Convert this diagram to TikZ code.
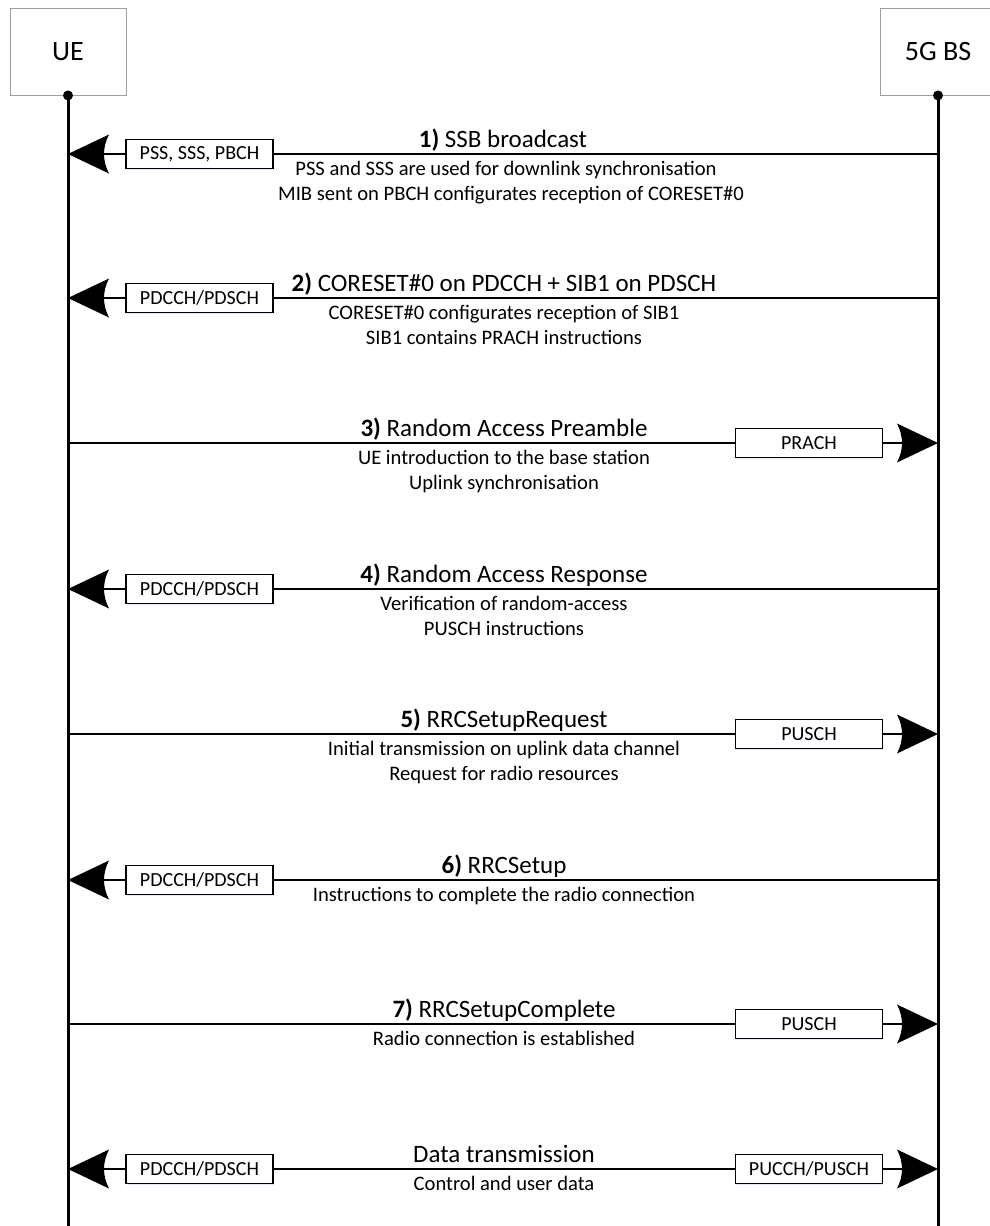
\documentclass[tikz,border=0pt]{standalone}
\usepackage{fontspec}
\setmainfont{Carlito}
\usetikzlibrary{arrows.meta,shadows}

% filled arrow head whose back edge is a concave curve
\pgfdeclarearrow{
  name = CurvedBack,
  parameters = {\the\pgfarrowlength,\the\pgfarrowwidth,\the\pgfarrowinset},
  setup code = {
    \pgfarrowssettipend{0pt}
    \pgfarrowssetbackend{-\pgfarrowlength}
    \pgfarrowssetlineend{-0.5\pgfarrowlength}
    \pgfarrowshullpoint{0pt}{0pt}
    \pgfarrowsupperhullpoint{-\pgfarrowlength}{0.5\pgfarrowwidth}
    \pgfarrowssavethe\pgfarrowlength
    \pgfarrowssavethe\pgfarrowwidth
    \pgfarrowssavethe\pgfarrowinset
  },
  drawing code = {
    \pgfpathmoveto{\pgfpointorigin}
    \pgfpathlineto{\pgfpoint{-\pgfarrowlength}{0.5\pgfarrowwidth}}
    \pgfpathcurveto
      {\pgfpointadd{\pgfpoint{-\pgfarrowlength}{0.1667\pgfarrowwidth}}{\pgfpoint{1.333\pgfarrowinset}{0pt}}}
      {\pgfpointadd{\pgfpoint{-\pgfarrowlength}{-0.1667\pgfarrowwidth}}{\pgfpoint{1.333\pgfarrowinset}{0pt}}}
      {\pgfpoint{-\pgfarrowlength}{-0.5\pgfarrowwidth}}
    \pgfpathclose
    \pgfusepathqfill
  },
  defaults = {length=41pt, width=39pt, inset=5pt}
}

\begin{document}
\begin{tikzpicture}[x=1pt,y=-1pt,
  header/.style={draw=black!38, line width=0.9pt, minimum width=116pt,
    minimum height=87pt, inner sep=0pt, font=\fontsize{28}{32}\selectfont},
  lifeline/.style={line width=3pt},
  msg/.style={line width=2pt},
  msgarrow/.style={-{CurvedBack}},
  chan/.style={draw, fill=white, line width=1.6pt, minimum width=147pt,
    minimum height=29pt, inner sep=0pt, font=\fontsize{20}{24}\selectfont,
    drop shadow={shadow xshift=0.6pt, shadow yshift=-1.8pt,
      fill={rgb,255:red,185;green,205;blue,230}, opacity=0.45}},
  msgtitle/.style={anchor=base, font=\fontsize{25}{29}\selectfont},
  msgdesc/.style={anchor=base, font=\fontsize{20.6}{24}\selectfont},
]
\useasboundingbox (0,0) rectangle (990,1226);
\clip (0,0) rectangle (990,1226);

% participants
\node[header] (ue) at (68,51.5) {UE};
\node[header] (bs) at (938,51.5) {5G BS};

% lifelines
\draw[lifeline] (ue.south) -- (ue.south |- 0,1232);
\draw[lifeline] (bs.south) -- (bs.south |- 0,1232);
\fill (ue.south) circle (5pt);
\fill (bs.south) circle (5pt);

% 1) SSB broadcast
\coordinate (ue1) at (68,154); \coordinate (bs1) at (938,154);
\node[chan] (c1) at (199.5,154) {PSS, SSS, PBCH};
\draw[msg] (bs1) -- (c1.east);
\draw[msg,msgarrow] (c1.west) -- (ue1);
\node[msgtitle] (t1) at (503,147) {\textbf{1)} SSB broadcast};
\node[msgdesc] (d1a) at (506,175) {PSS and SSS are used for downlink synchronisation};
\node[msgdesc] (d1b) at (511,200) {MIB sent on PBCH configurates reception of CORESET\#0};

% 2) CORESET#0 + SIB1
\coordinate (ue2) at (68,298); \coordinate (bs2) at (938,298);
\node[chan] (c2) at (199.5,298) {PDCCH/PDSCH};
\draw[msg] (bs2) -- (c2.east);
\draw[msg,msgarrow] (c2.west) -- (ue2);
\node[msgtitle] (t2) at (504,291) {\textbf{2)} CORESET\#0 on PDCCH + SIB1 on PDSCH};
\node[msgdesc] (d2a) at (504,319) {CORESET\#0 configurates reception of SIB1};
\node[msgdesc] (d2b) at (504,344) {SIB1 contains PRACH instructions};

% 3) Random Access Preamble
\coordinate (ue3) at (68,443); \coordinate (bs3) at (938,443);
\node[chan] (c3) at (809,443) {PRACH};
\draw[msg] (ue3) -- (c3.west);
\draw[msg,msgarrow] (c3.east) -- (bs3);
\node[msgtitle] (t3) at (504,436) {\textbf{3)} Random Access Preamble};
\node[msgdesc] (d3a) at (504,464) {UE introduction to the base station};
\node[msgdesc] (d3b) at (504,489) {Uplink synchronisation};

% 4) Random Access Response
\coordinate (ue4) at (68,589); \coordinate (bs4) at (938,589);
\node[chan] (c4) at (199.5,589) {PDCCH/PDSCH};
\draw[msg] (bs4) -- (c4.east);
\draw[msg,msgarrow] (c4.west) -- (ue4);
\node[msgtitle] (t4) at (504,582) {\textbf{4)} Random Access Response};
\node[msgdesc] (d4a) at (504,610) {Verification of random-access};
\node[msgdesc] (d4b) at (504,635) {PUSCH instructions};

% 5) RRCSetupRequest
\coordinate (ue5) at (68,734); \coordinate (bs5) at (938,734);
\node[chan] (c5) at (809,734) {PUSCH};
\draw[msg] (ue5) -- (c5.west);
\draw[msg,msgarrow] (c5.east) -- (bs5);
\node[msgtitle] (t5) at (504,727) {\textbf{5)} RRCSetupRequest};
\node[msgdesc] (d5a) at (504,755) {Initial transmission on uplink data channel};
\node[msgdesc] (d5b) at (504,780) {Request for radio resources};

% 6) RRCSetup
\coordinate (ue6) at (68,880); \coordinate (bs6) at (938,880);
\node[chan] (c6) at (199.5,880) {PDCCH/PDSCH};
\draw[msg] (bs6) -- (c6.east);
\draw[msg,msgarrow] (c6.west) -- (ue6);
\node[msgtitle] (t6) at (504,873) {\textbf{6)} RRCSetup};
\node[msgdesc] (d6a) at (504,901) {Instructions to complete the radio connection};

% 7) RRCSetupComplete
\coordinate (ue7) at (68,1024); \coordinate (bs7) at (938,1024);
\node[chan] (c7) at (809,1024) {PUSCH};
\draw[msg] (ue7) -- (c7.west);
\draw[msg,msgarrow] (c7.east) -- (bs7);
\node[msgtitle] (t7) at (504,1017) {\textbf{7)} RRCSetupComplete};
\node[msgdesc] (d7a) at (504,1045) {Radio connection is established};

% data transmission in both directions
\coordinate (ue8) at (68,1169); \coordinate (bs8) at (938,1169);
\node[chan] (c8l) at (199.5,1169) {PDCCH/PDSCH};
\node[chan] (c8r) at (809,1169) {PUCCH/PUSCH};
\draw[msg] (c8l.east) -- (c8r.west);
\draw[msg,msgarrow] (c8l.west) -- (ue8);
\draw[msg,msgarrow] (c8r.east) -- (bs8);
\node[msgtitle] (t8) at (504,1162) {Data transmission};
\node[msgdesc] (d8a) at (504,1190) {Control and user data};
\end{tikzpicture}
\end{document}
